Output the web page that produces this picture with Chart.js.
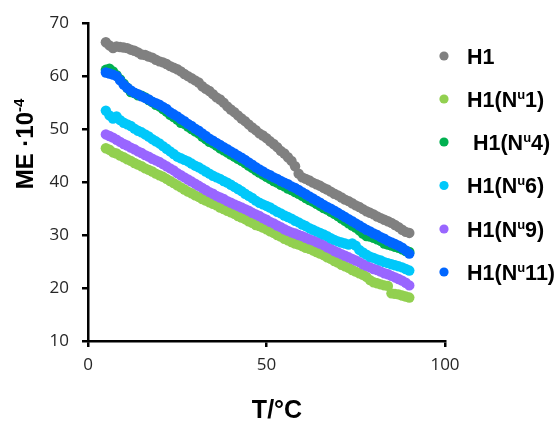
<!DOCTYPE html>
<html><head><meta charset="utf-8">
<script src="https://cdn.jsdelivr.net/npm/chart.js@4.4.1/dist/chart.umd.min.js"></script>
<style>html,body{margin:0;padding:0;background:#fff}#wrap{width:560px;height:422px;position:relative}</style>
</head><body><div id="wrap"><canvas id="c" width="560" height="422"></canvas></div>
<script>
const temps = [5,6,7,8,9,10,11,12,13,14,15,16,17,18,19,20,21,22,23,24,25,26,27,28,29,30,31,32,33,34,35,36,37,38,39,40,41,42,43,44,45,46,47,48,49,50,51,52,53,54,55,56,57,58,59,60,61,62,63,64,65,66,67,68,69,70,71,72,73,74,75,76,77,78,79,80,81,82,83,84,85,86,87,88,89,90];
const h1 = [66.4,65.8,65.3,65.6,65.5,65.4,65.3,65.0,64.8,64.5, 64.1,64.0,63.7,63.5,63.1,62.8,62.6,62.3,61.9,61.6, 61.3,60.9,60.4,60.0,59.6,59.2,58.8,58.1,57.6,57.2, 56.6,56.0,55.6,55.0,54.3,53.7,53.2,52.6,52.0,51.5, 50.9,50.3,49.8,49.2,48.8,48.3,47.7,47.2,46.6,45.9, 45.4,44.7,44.0,43.0,41.6,40.9,40.6,40.3,39.9,39.6, 39.3,38.9,38.6,38.2,37.8,37.5,37.1,36.7,36.4,36.0, 35.6,35.3,34.9,34.5,34.2,33.9,33.5,33.2,32.9,32.6, 32.3,31.9,31.5,31.0,30.6,30.4];
const nu1 = [46.4,46.1,45.6,45.4,45.0,44.7,44.3,44.0,43.6,43.3, 43.0,42.6,42.3,42.0,41.6,41.3,41.0,40.6,40.2,39.8, 39.4,39.0,38.6,38.2,37.9,37.5,37.2,36.8,36.5,36.2, 35.9,35.6,35.2,34.9,34.6,34.3,34.0,33.6,33.3,33.0, 32.6,32.3,31.9,31.7,31.4,31.1,30.7,30.4,30.0,29.7, 29.3,29.0,28.7,28.4,28.2,27.9,27.6,27.4,27.1,26.8, 26.5,26.2,25.8,25.5,25.1,24.8,24.4,24.1,23.8,23.4, 23.1,22.8,22.5,22.1,21.5,21.1,20.9,20.7,20.5,20.4, 19.0,18.9,18.8,18.6,18.4,18.2];
const nu4 = [61.2,61.4,60.9,60.2,59.4,58.6,57.8,57.0,56.8,56.4, 56.3,56.0,55.5,55.1,54.6,54.3,53.8,53.3,52.7,52.3, 51.8,51.2,51.0,50.5,50.0,49.6,49.2,48.6,48.1,47.6, 47.3,46.9,46.4,46.0,45.6,45.2,44.8,44.4,44.0,43.6, 43.1,42.7,42.2,41.8,41.4,41.0,40.6,40.2,39.9,39.5, 39.2,38.8,38.5,38.1,37.8,37.4,37.0,36.6,36.3,35.9, 35.5,35.1,34.8,34.4,34.0,33.6,33.1,32.7,32.2,31.8, 31.4,30.9,30.3,29.8,29.7,29.5,29.2,28.9,28.4,28.2, 28.0,27.8,27.6,27.3,27.0,26.8];
const nu6 = [53.5,52.6,52.0,52.4,51.7,51.2,50.9,50.6,50.1,49.7, 49.4,49.0,48.6,48.1,47.7,47.3,46.8,46.3,45.8,45.3, 44.8,44.5,44.2,43.9,43.5,43.1,42.8,42.4,42.0,41.6, 41.2,40.9,40.6,40.2,39.9,39.5,39.1,38.7,38.3,37.8, 37.4,37.0,36.5,36.1,35.8,35.5,35.2,34.8,34.4,34.1, 33.7,33.4,33.1,32.7,32.4,32.0,31.7,31.3,31.0,30.7, 30.4,30.1,29.8,29.4,29.1,28.8,28.6,28.4,28.2,28.4, 28.0,27.2,26.7,26.3,25.9,25.7,25.4,25.2,24.9,24.7, 24.5,24.3,24.1,23.9,23.6,23.3];
const nu9 = [49.0,48.7,48.4,48.0,47.6,47.2,46.9,46.5,46.2,45.8, 45.5,45.1,44.8,44.4,44.1,43.8,43.4,43.0,42.6,42.2, 41.7,41.3,40.9,40.5,40.1,39.7,39.3,38.9,38.5,38.1, 37.8,37.4,37.1,36.8,36.4,36.1,35.8,35.5,35.2,34.9, 34.6,34.2,33.9,33.6,33.2,32.9,32.5,32.2,31.8,31.5, 31.1,30.8,30.5,30.3,30.0,29.8,29.5,29.2,29.0,28.7, 28.4,28.1,27.7,27.4,27.0,26.7,26.4,26.1,25.8,25.5, 25.2,24.9,24.5,24.2,23.9,23.6,23.4,23.1,22.8,22.6, 22.3,22.0,21.7,21.4,21.0,20.5];
const nu11 = [60.7,60.5,60.3,60.0,59.2,58.4,57.8,57.3,56.9,56.6, 56.2,55.9,55.6,55.2,54.9,54.6,54.2,53.8,53.2,52.8, 52.4,51.9,51.5,51.0,50.6,50.1,49.7,49.2,48.7,48.2, 47.8,47.4,47.0,46.6,46.2,45.8,45.4,45.0,44.6,44.2, 43.7,43.3,42.8,42.4,42.0,41.6,41.3,40.9,40.6,40.2, 39.9,39.6,39.2,38.9,38.5,38.1,37.7,37.3,36.9,36.5, 36.1,35.7,35.3,35.0,34.6,34.2,33.8,33.4,33.0,32.6, 32.2,31.8,31.4,31.0,30.7,30.3,30.0,29.6,29.3,28.9, 28.6,28.3,28.0,27.6,27.1,26.5];

const seriesNames = ['H1', 'H1(N^u1)', ' H1(N^u4)', 'H1(N^u6)', 'H1(N^u9)', 'H1(N^u11)'];
const seriesValues = [h1, nu1, nu4, nu6, nu9, nu11];
const seriesColors = ['#808080', '#92d050', '#00b050', '#00c8fa', '#9966ff', '#0066ff'];
const seriesOrder = [5, 4, 3, 1, 2, 0];
const xTicks = [0, 50, 100];
const yTicks = [10, 20, 30, 40, 50, 60, 70];
const xTitle = 'T/°C';
const yTitle = 'ME ·10^-4';

function parseRich(s) {
  const i = s.indexOf('^');
  if (i < 0) return [{t: s, sup: false}];
  const out = [{t: s.slice(0, i), sup: false}];
  const rest = s.slice(i + 1);
  const m = rest.match(/^(u|-?\d+)/);
  out.push({t: m[1], sup: true});
  out.push({t: rest.slice(m[1].length), sup: false});
  return out;
}
function richWidth(ctx, segs, size, family) {
  let w = 0;
  for (const sg of segs) {
    ctx.font = 'bold ' + (sg.sup ? Math.round(size * 0.62) : size) + 'px ' + family;
    w += ctx.measureText(sg.t).width;
  }
  return w;
}
function drawRich(ctx, segs, x, y, size, family) {
  let cx = x;
  for (const sg of segs) {
    const sz = sg.sup ? Math.round(size * 0.62) : size;
    ctx.font = 'bold ' + sz + 'px ' + family;
    ctx.fillText(sg.t, cx, sg.sup ? y - size * 0.38 : y);
    cx += ctx.measureText(sg.t).width;
  }
}

const FAM = '"Liberation Sans", Arial, sans-serif';
const decor = {
  id: 'decor',
  afterDraw(chart) {
    const ctx = chart.ctx;
    ctx.save();
    ctx.fillStyle = '#000';
    ctx.textAlign = 'left';
    ctx.textBaseline = 'alphabetic';
    const rows = [56, 99, 142, 185.5, 229, 272];
    seriesNames.forEach((n, i) => {
      ctx.beginPath();
      ctx.arc(444, rows[i], 4.6, 0, Math.PI * 2);
      ctx.fillStyle = seriesColors[i];
      ctx.fill();
      ctx.fillStyle = '#000';
      drawRich(ctx, parseRich(n), 467, rows[i] + 7.8, 21.5, FAM);
    });
    ctx.font = 'bold 25px ' + FAM;
    ctx.textAlign = 'center';
    ctx.fillText(xTitle, 277, 418);
    ctx.textAlign = 'left';
    const segs = parseRich(yTitle);
    const w = richWidth(ctx, segs, 24, FAM);
    ctx.translate(33, 144);
    ctx.rotate(-Math.PI / 2);
    drawRich(ctx, segs, -w / 2, 0, 24, FAM);
    ctx.restore();
  }
};

const datasets = seriesNames.map((n, i) => ({
  label: n,
  data: temps.map((t, j) => ({x: t, y: seriesValues[i][j]})),
  backgroundColor: seriesColors[i],
  borderColor: seriesColors[i],
  borderWidth: 0,
  pointRadius: 5.2,
  pointHoverRadius: 5.2,
  showLine: false,
  order: seriesOrder[i]
}));

const tickFont = {family: '"Open Sans", sans-serif', size: 17};
new Chart(document.getElementById('c'), {
  type: 'scatter',
  data: {datasets},
  options: {
    responsive: false,
    animation: false,
    devicePixelRatio: 1,
    layout: {padding: {left: 0, right: 115, top: 21, bottom: 0}},
    plugins: {legend: {display: false}, tooltip: {enabled: false}},
    scales: {
      x: {
        type: 'linear', min: 0, max: 100,
        afterFit(s) { s.height = 81; },
        afterBuildTicks(s) { s.ticks = xTicks.map(v => ({value: v})); },
        ticks: {font: tickFont, color: '#262626', padding: 8},
        grid: {drawOnChartArea: false, drawTicks: true, tickLength: 6, color: '#000', lineWidth: 2.5},
        border: {color: '#000', width: 2.5}
      },
      y: {
        type: 'linear', min: 10, max: 70,
        afterFit(s) { s.width = 88; },
        afterBuildTicks(s) { s.ticks = yTicks.map(v => ({value: v})); },
        ticks: {font: tickFont, color: '#262626', padding: 13},
        grid: {drawOnChartArea: false, drawTicks: true, tickLength: 6, color: '#000', lineWidth: 2.5},
        border: {color: '#000', width: 2.5}
      }
    }
  },
  plugins: [decor]
});
</script></body></html>
